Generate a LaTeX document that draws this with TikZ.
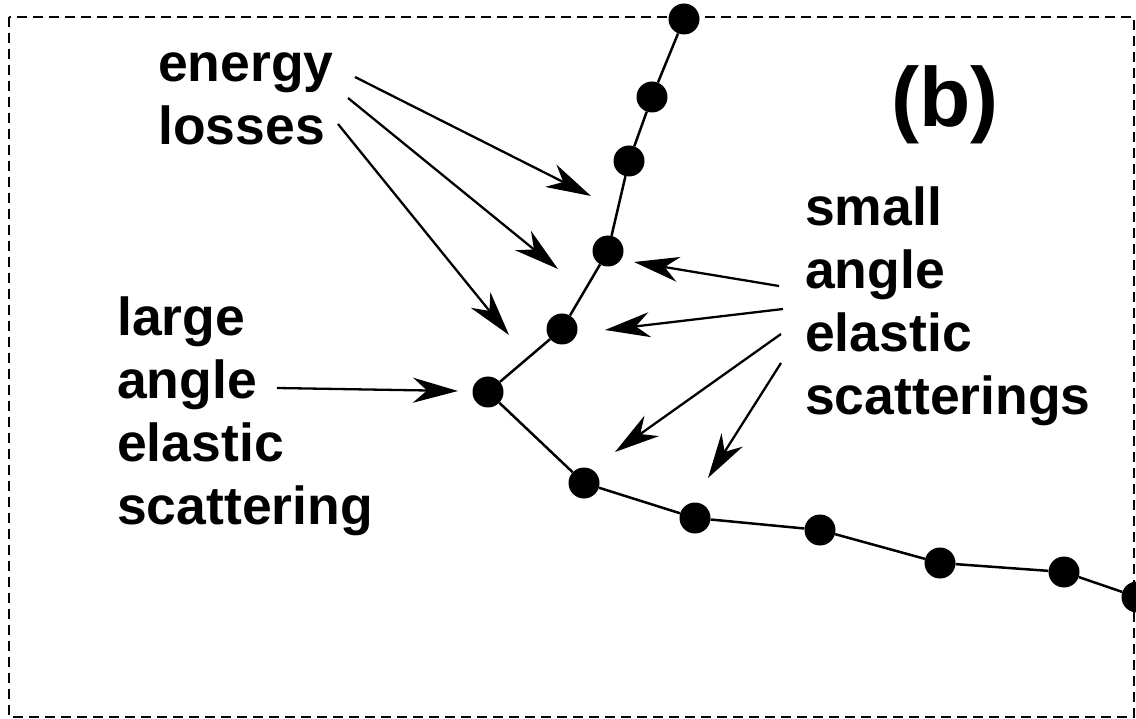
\documentclass[tikz,border=0pt]{standalone}
\usepackage{fontspec}
\setmainfont{Liberation Sans}
\usetikzlibrary{arrows.meta}
\begin{document}
\begin{tikzpicture}[x=1pt,y=-1pt,
  dot/.style={circle,fill=black,inner sep=0pt,minimum size=31pt},
  track/.style={line width=2.5pt},
  pointer/.style={line width=2.3pt,-{Stealth[length=45pt,width=25pt,inset=14pt]}},
  lbl/.style={font=\fontsize{53.5}{63}\selectfont\bfseries,align=left,inner sep=0pt,anchor=base west},
  frame/.style={line width=1.5pt,dash pattern=on 10pt off 6pt}]
\useasboundingbox (0,0) rectangle (1136,719);
\draw[frame] (9,17) rectangle (1134,717);
% dots
\node[dot] (d1) at (684,19) {};
\node[dot] (d2) at (652,97) {};
\node[dot] (d3) at (629,161) {};
\node[dot] (d4) at (608,251) {};
\node[dot] (d5) at (562,329) {};
\node[dot] (d6) at (488,392) {};
\node[dot] (d7) at (584,483) {};
\node[dot] (d8) at (695,518) {};
\node[dot] (d9) at (820,530) {};
\node[dot] (d10) at (940,563) {};
\node[dot] (d11) at (1064,572) {};
\node[dot] (d12) at (1137,597) {};
\draw[track] (d1)--(d2)--(d3)--(d4)--(d5)--(d6)--(d7)--(d8)--(d9)--(d10)--(d11)--(d12);
% labels (anchor = baseline of last line)
\node[lbl] (en) at (158,145) {energy\\losses};
\node[lbl] (la) at (117,524) {large\\angle\\elastic\\scattering};
\node[lbl] (sm) at (805,414) {small\\angle\\elastic\\scatterings};
\node[font=\fontsize{84}{90}\selectfont\bfseries,inner sep=0pt,anchor=base west] (b) at (891,127) {(b)};
% arrow ends
\coordinate (e1s) at (355,77);
\coordinate (e1t) at (591,196);
\coordinate (e2s) at (348,98);
\coordinate (e2t) at (558,269);
\coordinate (e3s) at (338,124);
\coordinate (e3t) at (509,335);
\coordinate (ls) at (277,388);
\coordinate (lt) at (458,391);
\coordinate (s1s) at (779,286);
\coordinate (s1t) at (634,262);
\coordinate (s2s) at (783,309);
\coordinate (s2t) at (605,330);
\coordinate (s3s) at (781,334);
\coordinate (s3t) at (615,452);
\coordinate (s4s) at (781,363);
\coordinate (s4t) at (708,478);
\draw[pointer] (e1s)--(e1t);
\draw[pointer] (e2s)--(e2t);
\draw[pointer] (e3s)--(e3t);
\draw[pointer] (ls)--(lt);
\draw[pointer] (s1s)--(s1t);
\draw[pointer] (s2s)--(s2t);
\draw[pointer] (s3s)--(s3t);
\draw[pointer] (s4s)--(s4t);
\end{tikzpicture}
\end{document}
